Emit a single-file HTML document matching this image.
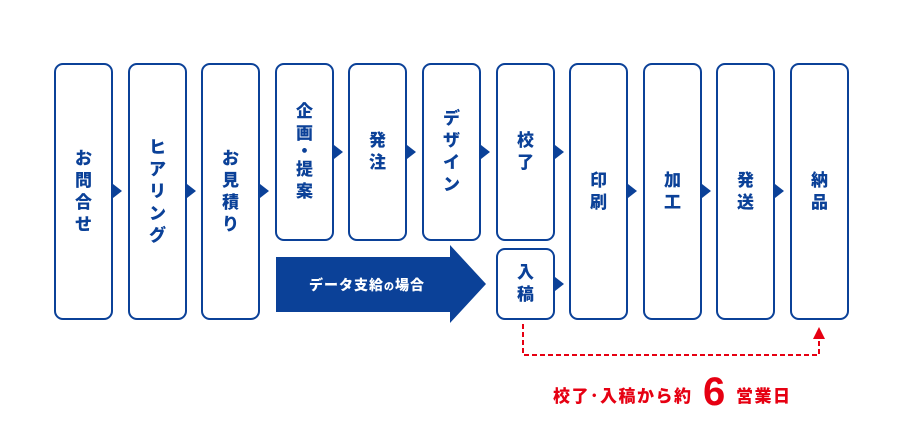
<!DOCTYPE html>
<html><head><meta charset="utf-8"><style>
body{margin:0;width:900px;height:435px;background:#fff;position:relative;overflow:hidden;font-family:"Liberation Sans","Noto Sans CJK JP",sans-serif;}
.b{position:absolute;border:2.5px solid #0b4198;border-radius:9px;box-sizing:border-box;display:flex;flex-direction:column;align-items:center;justify-content:center;color:#0b4198;font-weight:900;font-size:17px;line-height:22px;background:#fff}
.b span{display:block}
.t{position:absolute;width:0;height:0;border-top:7px solid transparent;border-bottom:7px solid transparent;border-left:9px solid #0b4198}
</style></head><body>
<div class="b" style="left:54px;top:63px;width:59px;height:257px"><span>お</span><span>問</span><span>合</span><span>せ</span></div>
<div class="b" style="left:128px;top:63px;width:59px;height:257px"><span>ヒ</span><span>ア</span><span>リ</span><span>ン</span><span>グ</span></div>
<div class="b" style="left:201px;top:63px;width:59px;height:257px"><span>お</span><span>見</span><span>積</span><span>り</span></div>
<div class="b" style="left:275px;top:63px;width:59px;height:178px"><span>企</span><span>画</span><span style="line-height:14px">・</span><span>提</span><span>案</span></div>
<div class="b" style="left:348px;top:63px;width:59px;height:178px"><span>発</span><span>注</span></div>
<div class="b" style="left:422px;top:63px;width:59px;height:178px"><span>デ</span><span>ザ</span><span>イ</span><span>ン</span></div>
<div class="b" style="left:496px;top:63px;width:59px;height:178px"><span>校</span><span>了</span></div>
<div class="b" style="left:496px;top:248px;width:59px;height:72px"><span>入</span><span>稿</span></div>
<div class="b" style="left:569px;top:63px;width:59px;height:257px"><span>印</span><span>刷</span></div>
<div class="b" style="left:643px;top:63px;width:59px;height:257px"><span>加</span><span>工</span></div>
<div class="b" style="left:716px;top:63px;width:59px;height:257px"><span>発</span><span>送</span></div>
<div class="b" style="left:790px;top:63px;width:59px;height:257px"><span>納</span><span>品</span></div>
<div class="t" style="left:113px;top:184px"></div>
<div class="t" style="left:187px;top:184px"></div>
<div class="t" style="left:260px;top:184px"></div>
<div class="t" style="left:334px;top:145px"></div>
<div class="t" style="left:407px;top:145px"></div>
<div class="t" style="left:481px;top:145px"></div>
<div class="t" style="left:555px;top:145px"></div>
<div class="t" style="left:555px;top:277px"></div>
<div class="t" style="left:628px;top:184px"></div>
<div class="t" style="left:702px;top:184px"></div>
<div class="t" style="left:775px;top:184px"></div>
<svg style="position:absolute;left:0;top:0" width="900" height="435">
<polygon points="276,257 450,257 450,245 486,284 450,323 450,312 276,312" fill="#0b4198"/>
<text x="367" y="290" fill="#fff" font-size="14" font-weight="900" text-anchor="middle" font-family="Liberation Sans,Noto Sans CJK JP,sans-serif" letter-spacing="1">データ支給<tspan font-size="10">の</tspan>場合</text>
<polyline points="523,324 523,355 819,355 819,338" fill="none" stroke="#e60012" stroke-width="2" stroke-dasharray="5,3"/>
<polygon points="813,339 825,339 819,327" fill="#e60012"/>
<text x="553" y="402" fill="#e60012" font-size="17" font-weight="900" font-family="Liberation Sans,Noto Sans CJK JP,sans-serif" letter-spacing="1.5">校了･入稿から約</text>
<text x="703" y="405" fill="#e60012" font-size="40" font-weight="bold" font-family="Liberation Sans,sans-serif">6</text>
<text x="736" y="402" fill="#e60012" font-size="17" font-weight="900" font-family="Liberation Sans,Noto Sans CJK JP,sans-serif" letter-spacing="1.5">営業日</text>
</svg>
</body></html>
